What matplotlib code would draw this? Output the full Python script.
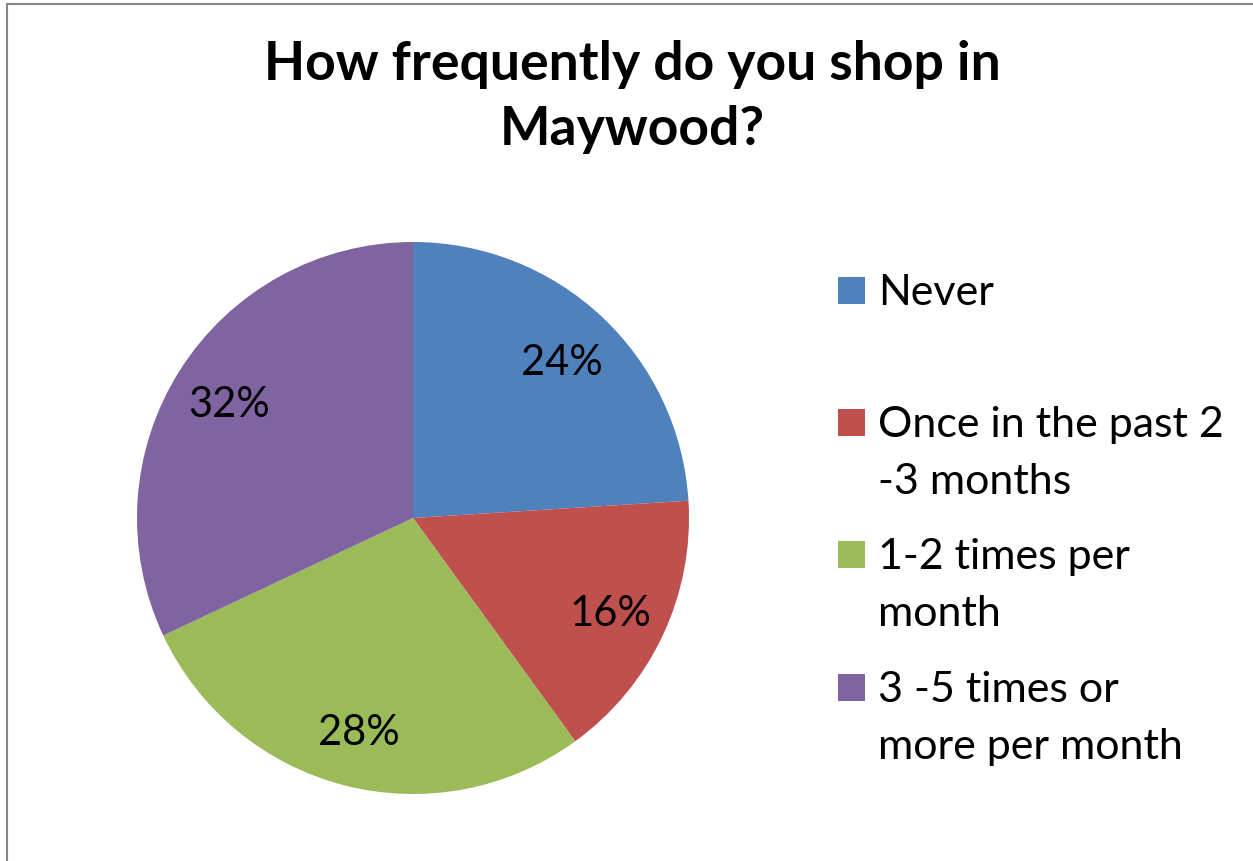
import matplotlib
matplotlib.use("Agg")
import matplotlib.pyplot as plt
from matplotlib.patches import Rectangle

# survey answers
categories = ['Never', 'Once in the past 2\n-3 months', '1-2 times per\nmonth', '3 -5 times or\nmore per month']
shares = [24, 16, 28, 32]
colors = ['#4F81BD', '#C0504D', '#9BBB59', '#8064A2']

W, H = 1253, 861
plt.rcParams['font.family'] = ['Lato', 'DejaVu Sans']
fig = plt.figure(figsize=(W / 100, H / 100), dpi=100)

# chart area border
fig.patches.append(Rectangle((7 / W, -0.05), 1.2, 1 - 4 / H + 0.05, transform=fig.transFigure,
                             facecolor='none', edgecolor='#868686', linewidth=1.5))

# pie axes: centre (413, 518) px, radius 276 px
cx, cy, r = 413, 518, 276
ax = fig.add_axes([(cx - r) / W, (H - cy - r) / H, 2 * r / W, 2 * r / H])
wedges, texts, autotexts = ax.pie(shares, colors=colors, startangle=90, counterclock=False,
                                  autopct='%d%%', pctdistance=0.79,
                                  textprops={'fontsize': 30, 'color': 'black'})
for t in autotexts:
    t.set_va('center_baseline')
ax.set_xlim(-1, 1)
ax.set_ylim(-1, 1)

fig.text(632 / W, 1 - 97 / H, 'How frequently do you shop in\nMaywood?', ha='center', va='center',
         fontsize=38.5, fontweight='bold', linespacing=1.4)

# legend drawn by hand
sq = 27
ys = [290, 422, 554, 687]
for lab, col, y in zip(categories, colors, ys):
    fig.patches.append(Rectangle((838 / W, (H - y - sq / 2) / H), sq / W, sq / H,
                                 transform=fig.transFigure, facecolor=col, edgecolor='none'))
    fig.text(878 / W, (H - y + 16) / H, lab, ha='left', va='top', fontsize=31,
             linespacing=1.62, transform=fig.transFigure)

fig.savefig('out.png', dpi=100)
